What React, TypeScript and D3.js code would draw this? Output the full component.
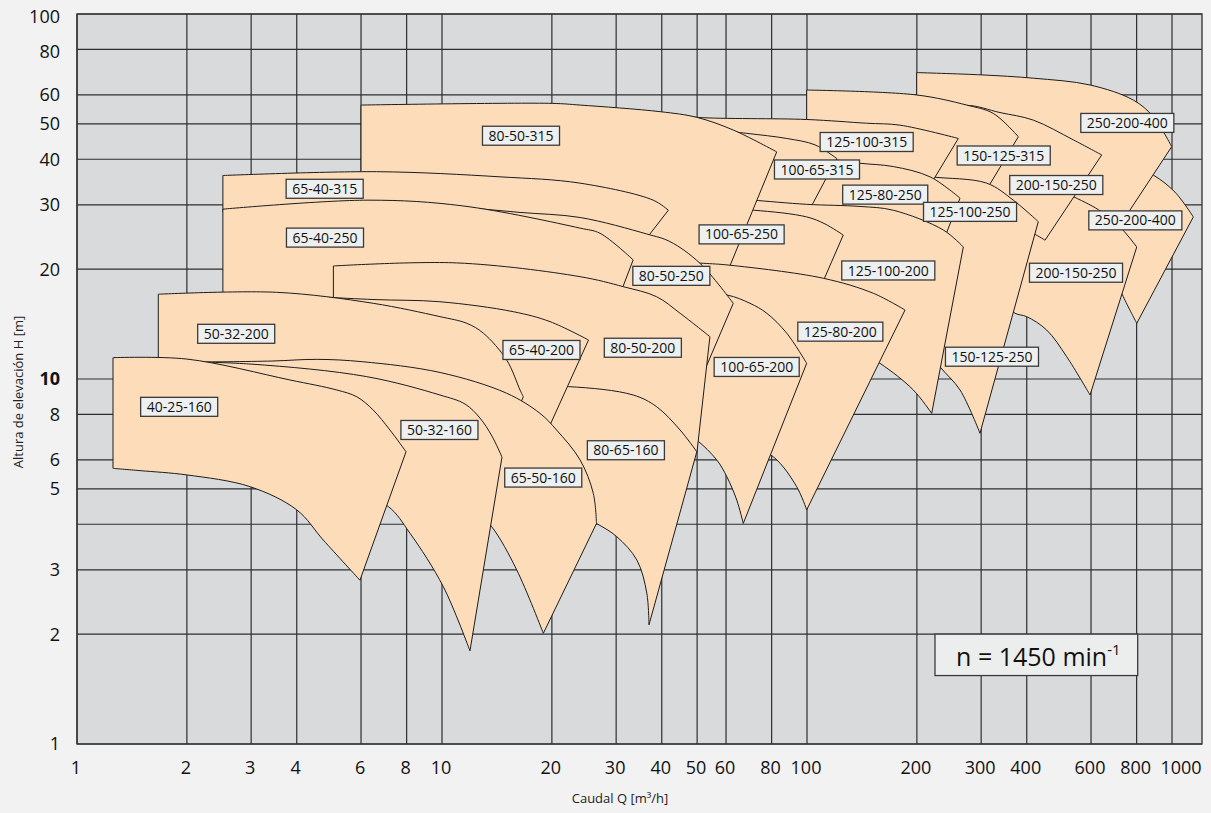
import React from 'react';
import * as d3 from 'd3';

type P = [number, number];

// ---------- axes ----------
const xGrid = [1, 2, 3, 4, 6, 8, 10, 20, 30, 40, 50, 60, 80, 100, 200, 300, 400, 600, 800, 1000];
const xTickLabels = ['1', '2', '3', '4', '6', '8', '10', '20', '30', '40', '50', '60', '80', '100', '200', '300', '400', '600', '800', '1000'];
const yGrid = [1, 2, 3, 4, 5, 6, 8, 10, 20, 30, 40, 50, 60, 80, 100];
const yTickLabels = [1, 2, 3, 5, 6, 8, 10, 20, 30, 40, 50, 60, 80, 100];

// ---------- pump tiles: top curve and bottom curve, both left -> right, [Q m3/h, H m] ----------
const top40_25_160: P[] = [[1.255, 11.44], [2.0, 11.34], [3.83, 9.94], [5.15, 9.33], [5.84, 8.94], [6.48, 8.22], [7.2, 7.25], [7.97, 6.32]];
const bot40_25_160: P[] = [[1.255, 5.69], [1.488, 5.61], [2.0, 5.46], [2.98, 5.07], [4.0, 4.38], [4.73, 3.62], [5.96, 2.81]];

const top50_32_160: P[] = [[1.585, 11.2], [2.98, 10.99], [6.22, 10.15], [9.87, 9.04], [11.56, 8.54], [12.7, 7.82], [13.7, 6.98], [14.6, 6.11]];
const bot50_32_160: P[] = [[1.585, 5.81], [2.98, 5.63], [5.6, 4.97], [7.13, 4.47], [8.17, 3.78], [10.08, 2.7], [11.93, 1.8]];

const top65_50_160: P[] = [[2.17, 11.13], [3.42, 11.2], [4.54, 11.32], [6.07, 11.15], [9.88, 10.42], [15.04, 9.14], [18.56, 8.05], [20.6, 7.25], [23.9, 6.0], [25.97, 4.86], [26.5, 4.02]];
const bot65_50_160: P[] = [[2.17, 5.78], [4.08, 5.63], [7.67, 5.29], [11.93, 4.52], [13.68, 3.94], [16.02, 3.0], [18.95, 2.01]];

const top80_65_160: P[] = [[14.42, 9.45], [22.2, 9.53], [33.4, 9.04], [38.7, 8.4], [44.9, 7.25], [49.9, 6.32]];
const bot80_65_160: P[] = [[14.42, 4.81], [21.05, 4.52], [26.5, 4.02], [30.1, 3.7], [34.2, 3.19], [36.4, 2.59], [36.9, 2.12]];

const top50_32_200: P[] = [[1.67, 17.07], [3.52, 17.28], [6.48, 16.12], [9.87, 14.82], [11.69, 14.21], [12.98, 13.35], [15.04, 11.27], [16.36, 9.33], [16.7, 8.94]];
const bot50_32_200: P[] = [[1.67, 10.92], [2.17, 10.58], [4.08, 9.33], [7.67, 8.76], [11.93, 7.25], [13.97, 5.81]];

const top65_40_200: P[] = [[3.67, 16.99], [6.47, 16.51], [9.87, 16.28], [15.68, 15.29], [19.77, 14.36], [25.2, 12.79]];
const bot65_40_200: P[] = [[3.67, 10.58], [7.67, 9.33], [14.42, 8.22], [19.77, 7.48]];

const top80_50_200: P[] = [[5.04, 20.4], [10.97, 20.8], [23.9, 19.07], [31.4, 17.9], [38.7, 16.81], [44.9, 15.14], [54.2, 13.06]];
const bot80_50_200: P[] = [[5.04, 10.58], [10.52, 9.63], [23.9, 8.76], [37.1, 7.97], [49.96, 6.31]];

const top100_65_200: P[] = [[44.9, 17.3], [60.3, 16.99], [69.8, 16.12], [77.6, 15.14], [88.0, 13.35], [99.8, 11.04]];
const bot100_65_200: P[] = [[44.9, 7.25], [49.9, 6.8], [56.6, 6.0], [60.3, 5.4], [64.2, 4.66], [66.9, 4.02]];

const top125_80_200: P[] = [[44.9, 20.9], [52.0, 20.75], [61.5, 20.5], [110.8, 18.88], [152, 17.17], [185.6, 15.45]];
const bot125_80_200: P[] = [[44.9, 7.72], [50.9, 7.48], [65.5, 6.8], [80.9, 6.12], [93.7, 5.07], [99.8, 4.38]];

const top125_100_200: P[] = [[65.5, 31.1], [71.3, 30.9], [99.8, 30.1], [139.7, 29.7], [172.3, 29.0], [236.3, 25.6], [268.1, 23.0]];
const bot125_100_200: P[] = [[65.5, 16.46], [84.3, 14.51], [123.1, 12.79], [158.5, 11.04], [195.6, 9.33], [219.6, 8.05]];

const top65_40_250: P[] = [[2.51, 29.2], [6.27, 30.9], [11.41, 29.8], [23.9, 25.9], [27.1, 25.07], [33.4, 21.2]];
const bot65_40_250: P[] = [[2.51, 17.1], [4.08, 16.7], [7.67, 16.46], [14.42, 15.94], [28.9, 14.5]];

const top80_50_250: P[] = [[7.67, 29.97], [11.41, 29.5], [16.36, 28.6], [23.9, 27.7], [36.4, 24.96], [42.1, 23.8], [50.9, 20.75], [62.8, 16.12]];
const bot80_50_250: P[] = [[7.67, 13.2], [11.93, 11.63], [23.9, 9.63], [34.9, 8.76], [44.05, 7.02]];

const top100_65_250: P[] = [[50.9, 29.2], [71.3, 29.0], [99.8, 27.8], [112, 26.6], [125.7, 24.8]];
const bot100_65_250: P[] = [[50.9, 19.9], [74.3, 18.1], [105.2, 16.46]];

const top125_80_250: P[] = [[98.8, 40.3], [120.8, 39.8], [139.7, 39.0], [172.3, 38.2], [217.3, 35.8], [262.6, 31.3]];
const bot125_80_250: P[] = [[98.8, 29.0], [139.7, 28.7], [179.8, 26.4], [231.4, 22.6]];

const top150_125_250: P[] = [[179.8, 36.9], [219.6, 35.8], [310.7, 34.4], [367.5, 30.9], [430.2, 26.98]];
const bot150_125_250: P[] = [[179.8, 16.46], [204, 12.79], [231.4, 10.8], [262.6, 9.33], [297.8, 7.1]];

const top200_150_250: P[] = [[337.9, 38.6], [536.5, 31.6], [641.9, 28.7], [728.1, 25.8], [800.6, 23.0]];
const bot200_150_250: P[] = [[337.9, 16.46], [371.5, 15.14], [399.9, 14.82], [453.6, 13.62], [514.6, 11.51], [596.3, 9.04]];

const top250_200_400low: P[] = [[676.3, 41.3], [888.8, 36.2], [1019, 32.5], [1144, 27.8]];
const bot250_200_400low: P[] = [[676.3, 20.5], [735.5, 16.81], [800.6, 14.21]];

const top65_40_315: P[] = [[2.51, 36.1], [6.62, 36.98], [14.42, 35.8], [23.9, 34.4], [37.9, 30.9], [41.7, 29.0]];
const bot65_40_315: P[] = [[2.51, 28.7], [6.27, 28.1], [14.42, 24.0], [32.7, 21.2]];

const top80_50_315: P[] = [[6.0, 56.3], [20.05, 56.9], [23.9, 56.3], [39.6, 54.0], [49.9, 52.1], [62.8, 48.1], [82.6, 41.9]];
const bot80_50_315: P[] = [[6.0, 30.9], [11.93, 28.1], [23.9, 24.0], [37.1, 21.2], [56.3, 16.46]];

const top100_65_315: P[] = [[50.9, 48.7], [68.4, 47.1], [88.0, 45.6], [105.2, 43.8], [120.6, 40.2]];
const bot100_65_315: P[] = [[50.9, 32.1], [74.3, 29.2], [98.8, 27.6]];

const top125_100_315: P[] = [[39.6, 53.5], [49.9, 52.1], [99.8, 51.4], [145.7, 50.2], [179.8, 49.6], [259.8, 45.6]];
const bot125_100_315: P[] = [[39.6, 45.2], [57.8, 42.4], [84.3, 40.6], [112, 37.4], [139.7, 35.1], [211.8, 32.5]];

const top150_125_315: P[] = [[99.8, 61.9], [199.8, 60.0], [273.8, 56.3], [323.9, 53.4], [379.3, 46.1]];
const bot150_125_315: P[] = [[99.8, 42.4], [158.5, 36.2], [217.3, 32.1], [288.6, 29.2]];

const top200_150_315: P[] = [[217.3, 53.9], [273.8, 56.2], [337.9, 53.7], [416.9, 51.2], [536.5, 45.2], [641.9, 41.1]];
const bot200_150_315: P[] = [[217.3, 30.9], [262.6, 29.0], [337.9, 26.9], [408.3, 25.3], [448.9, 24.0]];

const top250_200_400: P[] = [[199.8, 69.1], [301.0, 68.1], [416.9, 66.7], [596.3, 63.9], [783.4, 58.1], [888.8, 52.3], [998.1, 43.3]];
const bot250_200_400: P[] = [[199.8, 45.2], [337.9, 39.8], [493.4, 31.9], [615.2, 27.3], [729.5, 26.9]];

// drawing order: back -> front
const tiles: { id: string; top: P[]; bottom: P[] }[] = [
  { id: '250-200-400-low', top: top250_200_400low, bottom: bot250_200_400low },
  { id: '250-200-400', top: top250_200_400, bottom: bot250_200_400 },
  { id: '200-150-250', top: top200_150_250, bottom: bot200_150_250 },
  { id: '200-150-315', top: top200_150_315, bottom: bot200_150_315 },
  { id: '150-125-315', top: top150_125_315, bottom: bot150_125_315 },
  { id: '150-125-250', top: top150_125_250, bottom: bot150_125_250 },
  { id: '125-100-315', top: top125_100_315, bottom: bot125_100_315 },
  { id: '125-80-250', top: top125_80_250, bottom: bot125_80_250 },
  { id: '100-65-315', top: top100_65_315, bottom: bot100_65_315 },
  { id: '125-100-200', top: top125_100_200, bottom: bot125_100_200 },
  { id: '100-65-250', top: top100_65_250, bottom: bot100_65_250 },
  { id: '80-50-315', top: top80_50_315, bottom: bot80_50_315 },
  { id: '125-80-200', top: top125_80_200, bottom: bot125_80_200 },
  { id: '100-65-200', top: top100_65_200, bottom: bot100_65_200 },
  { id: '65-40-315', top: top65_40_315, bottom: bot65_40_315 },
  { id: '80-50-250', top: top80_50_250, bottom: bot80_50_250 },
  { id: '65-40-250', top: top65_40_250, bottom: bot65_40_250 },
  { id: '80-50-200', top: top80_50_200, bottom: bot80_50_200 },
  { id: '80-65-160', top: top80_65_160, bottom: bot80_65_160 },
  { id: '65-40-200', top: top65_40_200, bottom: bot65_40_200 },
  { id: '50-32-200', top: top50_32_200, bottom: bot50_32_200 },
  { id: '65-50-160', top: top65_50_160, bottom: bot65_50_160 },
  { id: '50-32-160', top: top50_32_160, bottom: bot50_32_160 },
  { id: '40-25-160', top: top40_25_160, bottom: bot40_25_160 },
];

// ---------- labels ----------
const labelTexts = ['40-25-160', '50-32-160', '65-50-160', '80-65-160', '50-32-200', '65-40-200', '80-50-200', '100-65-200', '125-80-200', '125-100-200', '65-40-250', '80-50-250', '100-65-250', '125-80-250', '125-100-250', '150-125-250', '200-150-250', '250-200-400', '65-40-315', '80-50-315', '100-65-315', '125-100-315', '150-125-315', '200-150-250', '250-200-400'];
const labelQ = [1.905, 9.84, 18.94, 31.9, 2.73, 18.73, 35.5, 72.8, 123.4, 167.0, 4.78, 42.5, 66.2, 163.8, 279.7, 321.2, 545.8, 793.5, 4.77, 16.46, 106.5, 145.7, 345.9, 481.9, 754.4];
const labelH = [8.39, 7.25, 5.37, 6.38, 13.3, 12.01, 12.18, 10.79, 13.48, 19.83, 24.4, 19.17, 24.9, 32.0, 28.7, 11.51, 19.55, 27.2, 33.2, 46.4, 37.5, 44.6, 40.96, 34.0, 50.3];

const speedText = 'n = 1450 min';
const speedSup = '-1';
const speedBoxQ = [224.2, 805.4];
const speedBoxH = [2.0, 1.54];

const FONT = "'Open Sans', 'DejaVu Sans', sans-serif";

let ctx: CanvasRenderingContext2D | null = null;
function measure(t: string, font: string): number {
  if (!ctx) ctx = document.createElement('canvas').getContext('2d');
  if (!ctx) return t.length * 7.6;
  ctx.font = font;
  return ctx.measureText(t).width;
}

export default function App() {
  const W = 1211;
  const H = 813;
  const left = 77, right = 1202, top = 14, bottom = 744;
  const x = d3.scaleLog().domain([1, Math.pow(10, (right - left) / 365)]).range([left, right]);
  const y = d3.scaleLog().domain([1, 100]).range([bottom, top]);

  const line = d3
    .line<P>()
    .x((d) => x(d[0]))
    .y((d) => y(d[1]))
    .curve(d3.curveCatmullRom.alpha(0.5));

  const tilePath = (t: { top: P[]; bottom: P[] }) => {
    const a = line(t.top) || '';
    const b = (line(t.bottom.slice().reverse()) || '').replace(/^M/, 'L');
    return a + b + 'Z';
  };

  const gridColor = '#2e2e2e';

  return (
    <svg
      width={W}
      height={H}
      style={{ position: 'fixed', left: 0, top: 0, background: '#f2f2f2' }}
      xmlns="http://www.w3.org/2000/svg"
    >
      <rect x={0} y={0} width={W} height={H} fill="#f2f2f2" />
      <rect x={left} y={top} width={right - left} height={bottom - top} fill="#d9dadc" />
      {/* grid */}
      {xGrid.map((v) => (
        <line key={'gx' + v} x1={x(v)} x2={x(v)} y1={top} y2={bottom} stroke={gridColor} strokeWidth={1.2} />
      ))}
      {yGrid.map((v) => (
        <line key={'gy' + v} x1={left} x2={right} y1={y(v)} y2={y(v)} stroke={gridColor} strokeWidth={1.2} />
      ))}
      <rect x={left} y={top} width={right - left} height={bottom - top} fill="none" stroke={gridColor} strokeWidth={1.3} />

      {/* tiles */}
      {tiles.map((t) => (
        <path key={t.id} d={tilePath(t)} fill="#fddcba" stroke="#1c1c1c" strokeWidth={1} strokeLinejoin="miter" />
      ))}

      {/* labels */}
      {labelTexts.map((txt, i) => {
        const font = `14px ${FONT}`;
        const w = measure(txt, font) + 12;
        const h = 19;
        const cx = x(labelQ[i]);
        const cy = y(labelH[i]);
        return (
          <g key={'lb' + i}>
            <rect x={cx - w / 2} y={cy - h / 2} width={w} height={h} fill="#eef0ef" stroke="#3a3a3a" strokeWidth={1.3} />
            <text x={cx} y={cy} dy="0.36em" textAnchor="middle" fontFamily={FONT} fontSize={14} fill="#111">
              {txt}
            </text>
          </g>
        );
      })}

      {/* speed annotation */}
      <g>
        <rect
          x={x(speedBoxQ[0])}
          y={y(speedBoxH[0])}
          width={x(speedBoxQ[1]) - x(speedBoxQ[0])}
          height={y(speedBoxH[1]) - y(speedBoxH[0])}
          fill="#eceeed"
          stroke="#3a3a3a"
          strokeWidth={1.3}
        />
        <text
          x={(x(speedBoxQ[0]) + x(speedBoxQ[1])) / 2 + 2}
          y={y(speedBoxH[0]) + 32}
          textAnchor="middle"
          fontFamily={FONT}
          fontSize={25}
          fill="#111"
        >
          {speedText}
          <tspan fontSize={15} dy={-11}>
            {speedSup}
          </tspan>
        </text>
      </g>

      {/* x tick labels */}
      {xGrid.map((v, i) => (
        <text
          key={'xl' + v}
          x={x(v) + (i === xGrid.length - 1 ? 9 : -1)}
          y={768}
          dy="0.36em"
          textAnchor="middle"
          fontFamily={FONT}
          fontSize={18}
          fill="#111"
        >
          {xTickLabels[i]}
        </text>
      ))}
      {/* y tick labels */}
      {yTickLabels.map((v) => (
        <text
          key={'yl' + v}
          x={60}
          y={y(v) + (v === 100 ? 3 : v === 80 ? 2 : 0)}
          dy="0.36em"
          textAnchor="end"
          fontFamily={FONT}
          fontSize={18}
          fontWeight={v === 10 ? 700 : 400}
          fill="#111"
        >
          {v}
        </text>
      ))}

      {/* axis titles */}
      <text x={620} y={798} dy="0.36em" textAnchor="middle" fontFamily={FONT} fontSize={13} fill="#222">
        Caudal Q [m³/h]
      </text>
      <text
        transform={`translate(18,392) rotate(-90)`}
        dy="0.36em"
        textAnchor="middle"
        fontFamily={FONT}
        fontSize={13}
        fill="#222"
      >
        Altura de elevación H [m]
      </text>
    </svg>
  );
}
